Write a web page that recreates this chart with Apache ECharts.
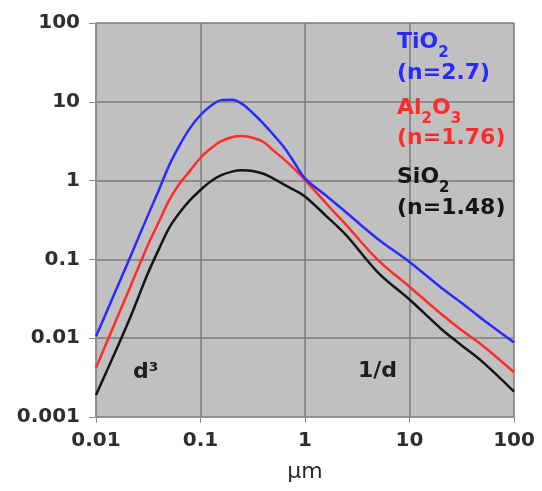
<!DOCTYPE html>
<html>
<head>
<meta charset="utf-8">
<script src="https://cdn.jsdelivr.net/npm/echarts@6/dist/echarts.min.js"></script>
<style>
  html, body { margin: 0; padding: 0; background: #ffffff; }
  #chart { width: 542px; height: 491px; }
</style>
</head>
<body>
<div id="chart"></div>
<script>
// Particle diameter (µm)
const diameters = [0.01, 0.02, 0.0316, 0.04, 0.05, 0.063, 0.079, 0.1, 0.126, 0.158, 0.2, 0.25,
                   0.316, 0.4, 0.5, 0.63, 0.79, 1, 1.58, 2.5, 5, 10, 20, 31.6, 50, 100];

// Relative scattering per material
const tio2 = [0.0105, 0.089, 0.37, 0.76, 1.55, 2.8, 4.6, 6.8, 8.9, 10.5, 10.6, 9.4,
              7.2, 5.3, 3.8, 2.65, 1.7, 1.07, 0.65, 0.39, 0.18, 0.093, 0.044, 0.028, 0.0174, 0.0088];
const al2o3 = [0.0042, 0.037, 0.155, 0.3, 0.56, 0.91, 1.32, 1.95, 2.57, 3.16, 3.55, 3.67,
               3.5, 3.09, 2.4, 1.86, 1.41, 1.02, 0.52, 0.27, 0.098, 0.045, 0.0204, 0.0126, 0.0081, 0.0037];
const sio2 = [0.0019, 0.0151, 0.068, 0.135, 0.25, 0.39, 0.56, 0.76, 0.98, 1.17, 1.3, 1.35,
              1.32, 1.22, 1.06, 0.89, 0.76, 0.63, 0.36, 0.2, 0.068, 0.031, 0.0132, 0.0081, 0.005, 0.0021];

// Tick labels, indexed by decade exponent
const xTickLabels = ['0.01', '0.1', '1', '10', '100'];          // 10^-2 .. 10^2
const yTickLabels = ['0.001', '0.01', '0.1', '1', '10', '100']; // 10^-3 .. 10^2

const BLUE = '#2a2aff', RED = '#ff2a2a', BLACK = '#151515';
const FONT = 'DejaVu Sans';

const pairs = vals => diameters.map((d, i) => [d, vals[i]]);

const chart = echarts.init(document.getElementById('chart'), null, { renderer: 'canvas' });

function lineSeries(name, vals, color) {
  return {
    name, type: 'line', data: pairs(vals), showSymbol: false,
    smooth: 0.35,
    lineStyle: { color, width: 2.5 }, itemStyle: { color },
    silent: true, animation: false
  };
}

// rich text: {m|...} main glyphs, {s|...} lowered subscript digits
function richStyle(color) {
  return {
    m: { fontFamily: FONT, fontWeight: 'bold', fontSize: 22, lineHeight: 30, verticalAlign: 'top', color },
    s: { fontFamily: FONT, fontWeight: 'bold', fontSize: 15, lineHeight: 30, verticalAlign: 'bottom', color }
  };
}

function label(text, x, y, color) {
  return {
    type: 'text', left: x, top: y, z: 10,
    style: { text, fill: color, rich: richStyle(color) }
  };
}

chart.setOption({
  animation: false,
  grid: {
    left: 96, right: 28, top: 23, bottom: 74,
    show: true, backgroundColor: '#c0c0c0', borderWidth: 0
  },
  xAxis: {
    type: 'log', logBase: 10, min: 0.01, max: 100,
    name: 'μm', nameLocation: 'middle', nameGap: 44,
    nameTextStyle: { fontFamily: FONT, fontSize: 22, color: '#2a2a2a' },
    axisLine: { show: true, lineStyle: { color: '#8c8c8c', width: 1.5 } },
    axisTick: { show: true, length: 6, lineStyle: { color: '#8c8c8c' } },
    minorTick: { show: false },
    splitLine: { show: true, lineStyle: { color: '#7c7c7c', width: 1.5 } },
    axisLabel: {
      fontFamily: FONT, fontSize: 20, fontWeight: 'bold', color: '#2e2e2e', margin: 14,
      formatter: v => xTickLabels[Math.round(Math.log10(v)) + 2]
    }
  },
  yAxis: {
    type: 'log', logBase: 10, min: 0.001, max: 100,
    axisLine: { show: true, lineStyle: { color: '#8c8c8c', width: 1.5 } },
    axisTick: { show: true, length: 7, lineStyle: { color: '#8c8c8c' } },
    splitLine: { show: true, lineStyle: { color: '#7c7c7c', width: 1.5 } },
    axisLabel: {
      fontFamily: FONT, fontSize: 20, fontWeight: 'bold', color: '#2e2e2e', margin: 16,
      formatter: v => yTickLabels[Math.round(Math.log10(v)) + 3]
    }
  },
  series: [
    lineSeries('SiO2', sio2, BLACK),
    lineSeries('Al2O3', al2o3, RED),
    lineSeries('TiO2', tio2, BLUE)
  ],
  graphic: [
    label('{m|TiO}{s|2}', 397, 31, BLUE),
    label('{m|(n=2.7)}', 397, 62, BLUE),
    label('{m|Al}{s|2}{m|O}{s|3}', 397, 97, RED),
    label('{m|(n=1.76)}', 397, 127, RED),
    label('{m|SiO}{s|2}', 397, 166, BLACK),
    label('{m|(n=1.48)}', 397, 197, BLACK),
    label('{m|d³}', 133, 361, '#1e1e1e'),
    label('{m|1/d}', 358, 360, '#1e1e1e')
  ]
});
</script>
</body>
</html>
